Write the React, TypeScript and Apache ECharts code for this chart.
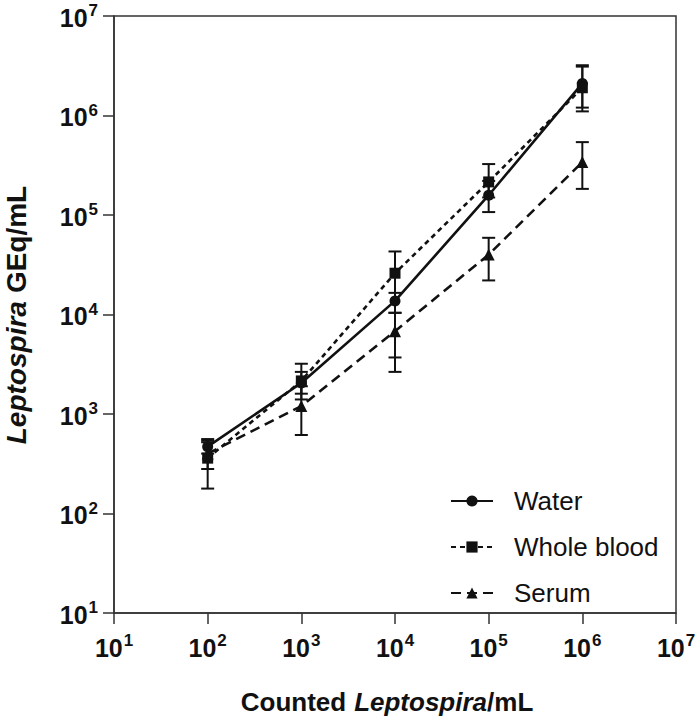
import React, { useEffect, useRef } from "react";
import * as echarts from "echarts";

const xValues = [1e2, 1e3, 1e4, 1e5, 1e6];

const waterMean = [470, 2050, 13700, 158000, 2100000];
const waterLow = [400, 1600, 10400, 107000, 1100000];
const waterHigh = [560, 2650, 16500, 220000, 3100000];

const bloodMean = [360, 2150, 26000, 215000, 1900000];
const bloodLow = [178, 1400, 3700, 150000, 1200000];
const bloodHigh = [540, 3200, 43000, 325000, 3200000];

const serumMean = [400, 1200, 6800, 40000, 340000];
const serumLow = [280, 615, 2650, 22000, 183000];
const serumHigh = [520, 1900, 10400, 59000, 540000];

const seriesNames = ["Water", "Whole blood", "Serum"];

const FONT = "'Liberation Sans', Arial, Helvetica, sans-serif";
const INK = "#111111";

function pairs(means: number[]) {
  return xValues.map((x, i) => [x, means[i]]);
}
function bars(lows: number[], highs: number[]) {
  return xValues.map((x, i) => [x, lows[i], highs[i]]);
}

function errorSeries(name: string, lows: number[], highs: number[]) {
  return {
    type: "custom",
    name: name + " error",
    z: 1,
    silent: true,
    dimensions: ["x", "lo", "hi"],
    encode: { x: 0, y: [1, 2] },
    data: bars(lows, highs),
    renderItem: (params: any, api: any) => {
      const x = api.value(0);
      const lo = api.value(1);
      const hi = api.value(2);
      const pTop = api.coord([x, hi]);
      const pBot = api.coord([x, lo]);
      const w = 6.5;
      const st = { stroke: INK, lineWidth: 2 };
      return {
        type: "group",
        children: [
          { type: "line", shape: { x1: pTop[0], y1: pTop[1], x2: pBot[0], y2: pBot[1] }, style: st },
          { type: "line", shape: { x1: pTop[0] - w, y1: pTop[1], x2: pTop[0] + w, y2: pTop[1] }, style: st },
          { type: "line", shape: { x1: pBot[0] - w, y1: pBot[1], x2: pBot[0] + w, y2: pBot[1] }, style: st },
        ],
      };
    },
  };
}

function expLabel(v: number) {
  const e = Math.round(Math.log10(v));
  return `{b|10}{s|${e}}`;
}

const labelRich = {
  b: { fontSize: 25, fontWeight: "bold", fontFamily: FONT, color: INK, lineHeight: 28, verticalAlign: "bottom" },
  s: { fontSize: 17, fontWeight: "bold", fontFamily: FONT, color: INK, lineHeight: 17, verticalAlign: "top", padding: [0, 0, 0, 1] },
};

export default function App() {
  const ref = useRef<HTMLDivElement>(null);
  useEffect(() => {
    if (!ref.current) return;
    const chart = echarts.init(ref.current, null, { renderer: "svg" });
    const option: any = {
      animation: false,
      backgroundColor: "#ffffff",
      grid: {
        left: 114,
        right: 24,
        top: 16,
        bottom: 112,
        show: true,
        borderColor: "#333333",
        borderWidth: 1.5,
      },
      xAxis: {
        type: "log",
        logBase: 10,
        min: 10,
        max: 1e7,
        splitLine: { show: false },
        axisLine: { show: true, lineStyle: { color: "#333333", width: 1.5 } },
        axisTick: { show: true, inside: false, length: 11, lineStyle: { color: "#333333", width: 1.5 } },
        minorTick: { show: false },
        axisLabel: { margin: 19, formatter: expLabel, rich: labelRich },
      },
      yAxis: {
        type: "log",
        logBase: 10,
        min: 10,
        max: 1e7,
        splitLine: { show: false },
        axisLine: { show: true, lineStyle: { color: "#333333", width: 1.5 } },
        axisTick: { show: true, inside: false, length: 11, lineStyle: { color: "#333333", width: 1.5 } },
        minorTick: { show: false },
        axisLabel: { margin: 16, formatter: expLabel, rich: labelRich },
      },
      legend: {
        data: seriesNames,
        orient: "vertical",
        left: 450,
        top: 488,
        padding: 0,
        itemWidth: 42,
        itemHeight: 14,
        itemGap: 20,
        textStyle: { fontSize: 26, fontFamily: FONT, color: INK, lineHeight: 26, padding: [0, 0, 0, 16] },
      },
      graphic: [
        {
          type: "text",
          x: 16,
          y: 315,
          rotation: Math.PI / 2,
          style: {
            text: "{i|Leptospira}{b|GEq/mL}",
            align: "center",
            verticalAlign: "middle",
            fill: INK,
            rich: {
              i: { fontSize: 28, fontWeight: "bold", fontStyle: "italic", fontFamily: FONT, fill: INK, padding: [0, 8, 0, 0] },
              b: { fontSize: 28, fontWeight: "bold", fontFamily: FONT, fill: INK },
            },
          },
        },
        {
          type: "text",
          x: 387,
          y: 702,
          style: {
            text: "{b|Counted}{i|Leptospira}{c|/mL}",
            align: "center",
            verticalAlign: "middle",
            fill: INK,
            rich: {
              b: { fontSize: 26, fontWeight: "bold", fontFamily: FONT, fill: INK, padding: [0, 8, 0, 0] },
              i: { fontSize: 26, fontWeight: "bold", fontStyle: "italic", fontFamily: FONT, fill: INK },
              c: { fontSize: 26, fontWeight: "bold", fontFamily: FONT, fill: INK },
            },
          },
        },
      ],
      series: [
        errorSeries("Water", waterLow, waterHigh),
        errorSeries("Whole blood", bloodLow, bloodHigh),
        errorSeries("Serum", serumLow, serumHigh),
        {
          type: "line",
          name: "Water",
          z: 3,
          data: pairs(waterMean),
          symbol: "circle",
          symbolSize: 11,
          itemStyle: { color: INK },
          lineStyle: { color: INK, width: 2.6, type: "solid" },
        },
        {
          type: "line",
          name: "Whole blood",
          z: 3,
          data: pairs(bloodMean),
          symbol: "rect",
          symbolSize: 11,
          itemStyle: { color: INK },
          lineStyle: { color: INK, width: 2.6, type: [5, 4] },
        },
        {
          type: "line",
          name: "Serum",
          z: 3,
          data: pairs(serumMean),
          symbol: "triangle",
          symbolSize: 12,
          itemStyle: { color: INK },
          lineStyle: { color: INK, width: 2.6, type: [10, 6] },
        },
      ],
    };
    chart.setOption(option);
    return () => chart.dispose();
  }, []);
  return <div ref={ref} style={{ width: 700, height: 725, position: "absolute", left: 0, top: 0 }} />;
}
